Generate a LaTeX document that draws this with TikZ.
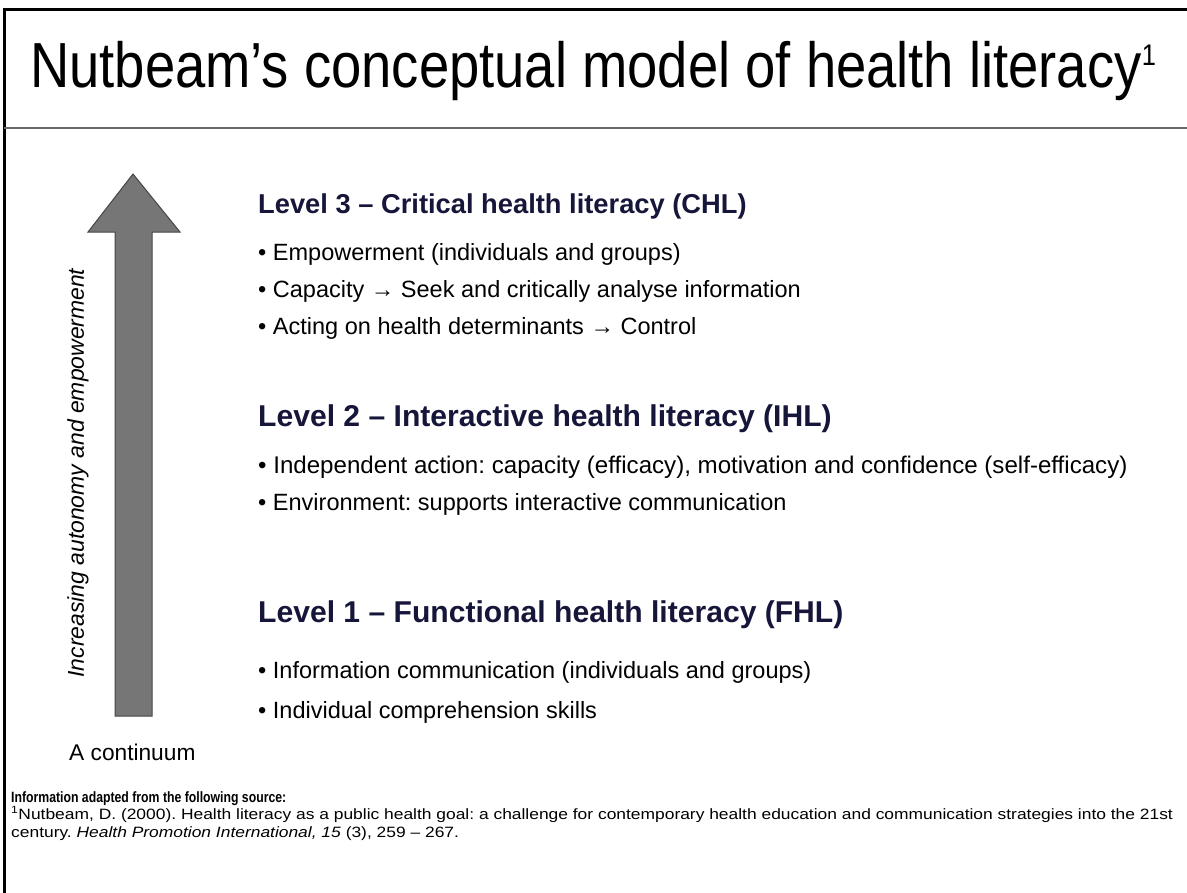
\documentclass[tikz,border=0pt]{standalone}
\usepackage{fontspec}
\setmainfont{Liberation Sans}
\newfontfamily\titlefont[FakeStretch=0.853]{Liberation Sans}
\newfontfamily\narrowfont[FakeStretch=0.82]{Liberation Sans}
\newfontfamily\widefont[FakeStretch=1.165]{Liberation Sans}
\frenchspacing

\definecolor{head_navy}{RGB}{22,22,58}
\definecolor{rule_gray}{RGB}{105,105,105}
\definecolor{shaft_gray}{RGB}{118,118,118}
\definecolor{edge_gray}{RGB}{70,70,70}

\begin{document}
\begin{tikzpicture}[
  x=1bp, y=-1bp,
  level_head/.style={anchor=base west, inner sep=0pt, text=head_navy, font=\fontsize{27.4}{30}\selectfont\bfseries},
  big_head/.style={anchor=base west, inner sep=0pt, text=head_navy, font=\fontsize{30.2}{33}\selectfont\bfseries},
  bullet_item/.style={anchor=base west, inner sep=0pt, font=\fontsize{23.6}{26}\selectfont},
  note_line/.style={anchor=base west, inner sep=0pt, font=\widefont\fontsize{15}{17}\selectfont},
  note_head/.style={anchor=base west, inner sep=0pt, font=\narrowfont\fontsize{15}{17}\selectfont\bfseries},
]
\useasboundingbox (0,0) rectangle (1187,893);
\fill[white] (0,0) rectangle (1187,893);

% frame and title rule
\draw[line width=3bp] (4,893) -- (4,9) -- (1187,9);
\draw[line width=2.5bp, rule_gray] (4,128) -- (1187,128);

\draw (30,87) node (T) [anchor=base west, inner sep=0pt, font=\titlefont\fontsize{64}{70}\selectfont] {Nutbeam’s conceptual model of health literacy\raisebox{22bp}{\fontsize{30}{30}\selectfont 1}};

% the continuum arrow
\draw[fill=shaft_gray, draw=edge_gray, line width=1bp, line join=miter]
  (115,716) -- (115,232) -- (88,232) -- (133,174) -- (180,232) -- (152,232) -- (152,716) -- cycle;
\draw (78,473) node (axis) [rotate=90, inner sep=0pt, font=\fontsize{23}{26}\selectfont\itshape] {Increasing autonomy and empowerment};
\draw (69,760) node (cont) [anchor=base west, inner sep=0pt, font=\fontsize{22.8}{26}\selectfont] {A continuum};

% level 3
\draw (258,213) node (L3) [level_head] {Level 3 – Critical health literacy (CHL)};
\draw (258,260) node (L3a) [bullet_item] {• Empowerment (individuals and groups)};
\draw (258,297) node (L3b) [bullet_item] {• Capacity → Seek and critically analyse information};
\draw (258,334) node (L3c) [bullet_item] {• Acting on health determinants → Control};

% level 2
\draw (258,426) node (L2) [big_head] {Level 2 – Interactive health literacy (IHL)};
\draw (258,473) node (L2a) [bullet_item, font=\fontsize{24.2}{26}\selectfont] {• Independent action: capacity (efficacy), motivation and confidence (self-efficacy)};
\draw (258,510) node (L2b) [bullet_item] {• Environment: supports interactive communication};

% level 1
\draw (258,622) node (L1) [big_head] {Level 1 – Functional health literacy (FHL)};
\draw (258,678) node (L1a) [bullet_item] {• Information communication (individuals and groups)};
\draw (258,718) node (L1b) [bullet_item] {• Individual comprehension skills};

% source note
\draw (11,802) node (S0) [note_head] {Information adapted from the following source:};
\draw (11,819) node (S1) [note_line] {\textsuperscript{1}Nutbeam, D. (2000). Health literacy as a public health goal: a challenge for contemporary health education and communication strategies into the 21st};
\draw (11,837) node (S2) [note_line] {century. \textit{Health Promotion International, 15} (3), 259 – 267.};
\end{tikzpicture}
\end{document}
